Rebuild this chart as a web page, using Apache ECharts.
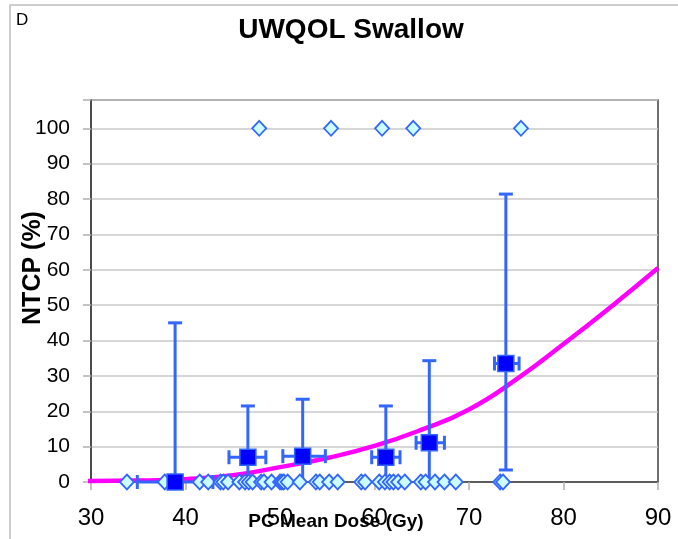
<!DOCTYPE html>
<html>
<head>
<meta charset="utf-8">
<title>UWQOL Swallow</title>
<script src="https://cdn.jsdelivr.net/npm/echarts@6/dist/echarts.min.js"></script>
<style>
  html, body { margin: 0; padding: 0; background: #fff; }
  #chart { width: 678px; height: 539px; }
</style>
</head>
<body>
<div id="chart"></div>
<script>
// binned observations: mean dose, NTCP and their error ranges
var binDose = [38.9, 46.6, 52.4, 61.2, 65.8, 73.9];
var binNtcp = [0, 7.0, 7.3, 7.0, 11.1, 33.5];
var ntcpLow = [0, 0, 0, 0, 0, 3.4];
var ntcpHigh = [45, 21.5, 23.4, 21.5, 34.3, 81.4];
var doseLow = [34.9, 44.6, 50.3, 59.7, 64.4, 72.7];
var doseHigh = [42.9, 48.5, 54.8, 62.7, 67.4, 75.3];

// individual patients (0 = no complication, 100 = complication)
var patDose0 = [33.8, 37.8, 41.5, 42.4, 43.7, 44.0, 44.5, 45.7, 46.3, 46.7, 47.1, 48.0, 48.3, 49.1,
    50.0, 50.2, 50.4, 50.8, 52.1, 53.8, 54.2, 55.2, 56.1, 58.6, 59.0, 60.5, 61.1, 61.6, 62.0,
    62.5, 63.2, 64.9, 65.4, 66.4, 67.4, 68.6, 73.3, 73.6];
var patDose100 = [47.8, 55.4, 60.8, 64.1, 75.5];

// fitted NTCP curve
var curveDose = [29.2, 35, 40, 45, 50, 55, 60, 65, 70, 75, 80, 85, 90];
var curveNtcp = [0.3, 0.4, 0.8, 1.9, 4.2, 6.8, 10.2, 14.8, 20.5, 29, 39, 49.5, 60.5];

var FONT = 'Liberation Sans';
var BLUE_LINE = '#3366ff';

var myChart = echarts.init(document.getElementById('chart'));

var curveData = curveDose.map(function (d, i) { return [d, curveNtcp[i]]; });
var zeroData = patDose0.map(function (d) { return [d, 0]; });
var hundredData = patDose100.map(function (d) { return [d, 100]; });
var binData = binDose.map(function (d, i) {
    return [d, binNtcp[i], ntcpLow[i], ntcpHigh[i], doseLow[i], doseHigh[i]];
});

function renderErrorBars(params, api) {
    var x = api.value(0), y = api.value(1);
    var lo = api.coord([x, api.value(2)]);
    var hi = api.coord([x, api.value(3)]);
    var le = api.coord([api.value(4), y]);
    var ri = api.coord([api.value(5), y]);
    var cap = 7;
    var style = { stroke: BLUE_LINE, lineWidth: 3, fill: null };
    var segs = [
        [lo[0], lo[1], hi[0], hi[1]],
        [hi[0] - cap, hi[1], hi[0] + cap, hi[1]],
        [le[0], le[1], ri[0], ri[1]],
        [le[0], le[1] - cap, le[0], le[1] + cap],
        [ri[0], ri[1] - cap, ri[0], ri[1] + cap]
    ];
    if (api.value(2) > 0) {
        segs.push([lo[0] - cap, lo[1], lo[0] + cap, lo[1]]);
    }
    return {
        type: 'group',
        children: segs.map(function (s) {
            return { type: 'line', shape: { x1: s[0], y1: s[1], x2: s[2], y2: s[3] }, style: style };
        })
    };
}

var option = {
    backgroundColor: '#fff',
    animation: false,
    textStyle: { fontFamily: FONT },
    grid: {
        left: 91, right: 20, top: 100, bottom: 57,
        show: true, borderColor: '#404040', borderWidth: 1.5
    },
    graphic: [
        {
            type: 'rect', z: -1, silent: true,
            shape: { x: 10, y: 5, width: 700, height: 600 },
            style: { fill: null, stroke: '#bdbdbd', lineWidth: 1.5 }
        },
        {
            type: 'text', left: 16, top: 12,
            style: { text: 'D', font: '17px "Liberation Sans"', fill: '#000' }
        },
        {
            type: 'text', x: 351, y: 30,
            style: {
                text: 'UWQOL Swallow', font: 'bold 28px "Liberation Sans"', fill: '#000',
                align: 'center', verticalAlign: 'middle'
            }
        },
        {
            type: 'text', x: 33, y: 268, rotation: Math.PI / 2,
            style: {
                text: 'NTCP (%)', font: 'bold 25px "Liberation Sans"', fill: '#000',
                align: 'center', verticalAlign: 'middle'
            }
        },
        {
            type: 'text', x: 336, y: 522, z: 10,
            style: {
                text: 'PC Mean Dose (Gy)', font: 'bold 19px "Liberation Sans"', fill: '#000',
                align: 'center', verticalAlign: 'middle'
            }
        }
    ],
    xAxis: {
        type: 'value',
        min: 30, max: 90, interval: 10,
        axisLine: { show: true, lineStyle: { color: '#404040', width: 1.5 } },
        axisTick: { show: true, inside: false, length: 8, lineStyle: { color: '#b0b0b0', width: 1.5 } },
        axisLabel: { margin: 24, fontSize: 24, color: '#000', fontFamily: FONT },
        splitLine: { show: false }
    },
    yAxis: {
        type: 'value',
        min: 0, max: 108, interval: 10,
        axisLine: { show: true, lineStyle: { color: '#404040', width: 1.5 } },
        axisTick: { show: true, inside: false, length: 8, lineStyle: { color: '#b0b0b0', width: 1.5 } },
        axisLabel: {
            margin: 21, fontSize: 21, color: '#000', fontFamily: FONT,
            formatter: function (v) { return v > 100 ? '' : String(v); }
        },
        splitLine: { show: true, lineStyle: { color: '#c8c8c8', width: 1.5 } }
    },
    series: [
        {
            name: 'fit',
            type: 'line',
            data: curveData,
            smooth: true,
            showSymbol: false,
            clip: false,
            z: 2,
            lineStyle: { color: '#ff00ff', width: 4.5 }
        },
        {
            name: 'error bars',
            type: 'custom',
            data: binData,
            renderItem: renderErrorBars,
            z: 3
        },
        {
            name: 'patients',
            type: 'scatter',
            data: zeroData.concat(hundredData),
            symbol: 'diamond',
            symbolSize: [14, 15],
            z: 4,
            itemStyle: { color: '#ccffff', borderColor: BLUE_LINE, borderWidth: 1.8, opacity: 1 }
        },
        {
            name: 'bins',
            type: 'scatter',
            data: binDose.map(function (d, i) { return [d, binNtcp[i]]; }),
            symbol: 'rect',
            symbolSize: 16,
            z: 5,
            itemStyle: { color: '#0000ff', borderColor: BLUE_LINE, borderWidth: 1.5, opacity: 1 }
        }
    ]
};
myChart.setOption(option);
</script>
</body>
</html>
